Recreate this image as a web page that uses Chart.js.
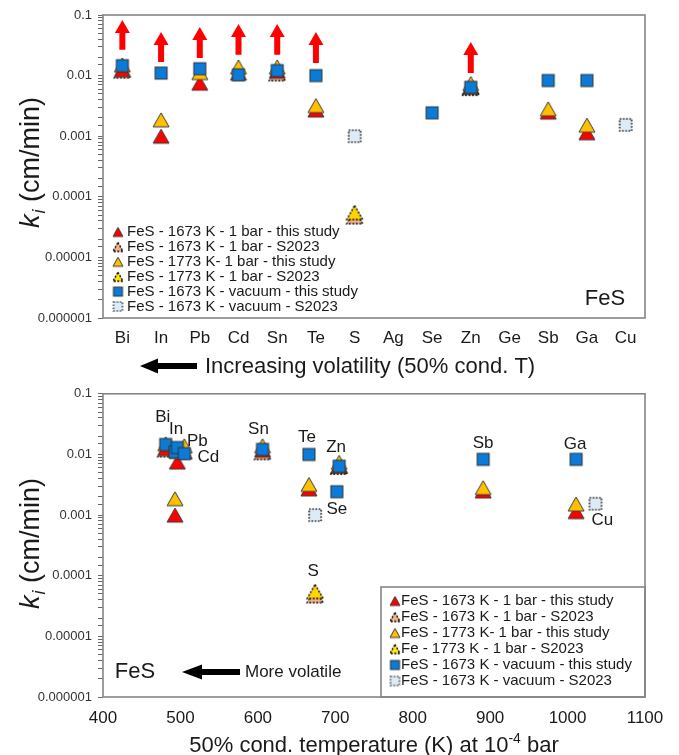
<!DOCTYPE html>
<html><head><meta charset="utf-8">
<script src="https://cdn.jsdelivr.net/npm/chart.js@4.4.1/dist/chart.umd.min.js"></script>
<style>
html,body{margin:0;padding:0;background:#fff;width:679px;height:755px;overflow:hidden}
#c1{position:absolute;left:0;top:0}
#c2{position:absolute;left:0;top:380px}
</style></head><body>
<canvas id="c1" width="679" height="380"></canvas>
<canvas id="c2" width="679" height="375"></canvas>
<script>
// ---------------- DATA ----------------
const elements = ['Bi','In','Pb','Cd','Sn','Te','S','Ag','Se','Zn','Ge','Sb','Ga','Cu'];
const condT    = [481, 493, 496, 505, 606, 666, 674, null, 702, 705, null, 891, 1011, 1036];
const fes1673Bar      = [0.0125, 0.001, 0.0075, 0.011, 0.0118, 0.0027, null, null, null, 0.0065, null, 0.0025, 0.00114, null];
const fes1673BarS2023 = [0.012, null, null, null, 0.0108, null, 0.000047, null, null, 0.0062, null, null, null, null];
const fes1773Bar      = [0.015, 0.00186, 0.0112, 0.0139, 0.0139, 0.0032, null, null, null, 0.0074, null, 0.00283, 0.00152, null];
const fe1773BarS2023  = [null, null, null, null, null, null, 0.000055, null, null, 0.0064, null, null, null, null];
const fes1673Vac      = [0.0146, 0.011, 0.013, 0.0103, 0.0121, 0.0100, null, null, 0.00243, 0.0064, null, 0.0083, 0.0083, null];
const fes1673VacS2023 = [null, null, null, null, null, null, 0.001, null, null, null, null, null, null, 0.00154];
const arrowFrom = [0.0266, 0.0168, 0.0196, 0.022, 0.022, 0.0162, null, null, null, 0.011, null, null, null, null];
const arrowTo   = [0.083, 0.0525, 0.0634, 0.071, 0.071, 0.0525, null, null, null, 0.0359, null, null, null, null];
const yTickLabels = ['0.1','0.01','0.001','0.0001','0.00001','0.000001'];
const xTicksK = [400, 500, 600, 700, 800, 900, 1000, 1100];
const legendTop = ['FeS - 1673 K - 1 bar - this study','FeS - 1673 K - 1 bar - S2023','FeS - 1773 K- 1 bar - this study','FeS - 1773 K - 1 bar - S2023','FeS - 1673 K - vacuum - this study','FeS - 1673 K - vacuum - S2023'];
const legendBottom = ['FeS - 1673 K - 1 bar - this study','FeS - 1673 K - 1 bar - S2023','FeS - 1773 K- 1 bar - this study','Fe - 1773 K - 1 bar - S2023','FeS - 1673 K - vacuum - this study','FeS - 1673 K - vacuum - S2023'];

// ---------------- STYLE ----------------
const FONT = "'Liberation Sans', Arial, sans-serif";
const TXT = '#1a1a1a';
function mkTri(fill, stroke, dashed, w, h) {
  const c = document.createElement('canvas'); c.width = w + 4; c.height = h + 4;
  const g = c.getContext('2d');
  g.beginPath(); g.moveTo(c.width / 2, 2); g.lineTo(c.width - 2, h + 2); g.lineTo(2, h + 2); g.closePath();
  g.fillStyle = fill; g.fill();
  g.lineWidth = dashed ? 1.4 : 1; g.strokeStyle = stroke;
  if (dashed) g.setLineDash([2, 1.5]);
  g.stroke(); return c;
}
function mkSq(fill, stroke, dashed, s) {
  const c = document.createElement('canvas'); c.width = s + 4; c.height = s + 4;
  const g = c.getContext('2d');
  g.fillStyle = fill; g.fillRect(2, 2, s, s);
  g.lineWidth = dashed ? 1.6 : 1; g.strokeStyle = stroke;
  if (dashed) g.setLineDash([1.6, 1.6]);
  g.strokeRect(2, 2, s, s); return c;
}
const RED = '#FF0000', YEL = '#FFC000', BLUE = '#0A7BD8';
const styles = {
  red:   [mkTri(RED, '#3a3a3a', false, 16, 14), mkTri(RED, '#3a3a3a', false, 10, 9)],
  redS:  [mkTri('#F4B183', '#000', true, 16, 14), mkTri('#F4B183', '#000', true, 10, 9)],
  yel:   [mkTri(YEL, '#3a3a3a', false, 16, 14), mkTri(YEL, '#3a3a3a', false, 10, 9)],
  yelS:  [mkTri('#FFD400', '#000', true, 16, 14), mkTri('#FFE800', '#000', true, 10, 9)],
  vac:   [mkSq(BLUE, '#333', false, 12), mkSq(BLUE, '#333', false, 9)],
  vacS:  [mkSq('#DDEBF7', '#222', true, 12), mkSq('#DDEBF7', '#555', true, 9)]
};
const legendIcons = [styles.red[1], styles.redS[1], styles.yel[1], styles.yelS[1], styles.vac[1], styles.vacS[1]];

// draw order: first = on top
const seriesDefs = [
  {data: fes1673Vac, st: styles.vac[0]},
  {data: fes1673VacS2023, st: styles.vacS[0]},
  {data: fes1773Bar, st: styles.yel[0]},
  {data: fes1673Bar, st: styles.red[0]},
  {data: fe1773BarS2023, st: styles.yelS[0]},
  {data: fes1673BarS2023, st: styles.redS[0]}
];

function isDecade(v) { const l = Math.log10(v); return Math.abs(l - Math.round(l)) < 1e-6; }
function yLabel(v) { if (!isDecade(v)) return ''; const idx = -Math.round(Math.log10(v)) - 1; return yTickLabels[idx] || ''; }

function drawYTitle(ctx, cx, cy) {
  ctx.save(); ctx.translate(cx, cy); ctx.rotate(-Math.PI / 2);
  const f1 = `italic 27px ${FONT}`, f2 = `italic 18px ${FONT}`, f3 = `27px ${FONT}`;
  ctx.font = f1; const w1 = ctx.measureText('k').width;
  ctx.font = f2; const w2 = ctx.measureText('i').width;
  ctx.font = f3; const w3 = ctx.measureText(' (cm/min)').width;
  let x = -(w1 + w2 + w3) / 2; const base = 9;
  ctx.fillStyle = TXT; ctx.textBaseline = 'alphabetic'; ctx.textAlign = 'left';
  ctx.font = f1; ctx.fillText('k', x, base); x += w1 + 1;
  ctx.font = f2; ctx.fillText('i', x, base + 6); x += w2;
  ctx.font = f3; ctx.fillText(' (cm/min)', x, base);
  ctx.restore();
}
function drawLeftArrow(ctx, xTip, xTail, y, headLen, headW, shaftW, color) {
  ctx.save(); ctx.fillStyle = color; ctx.beginPath();
  ctx.moveTo(xTip, y); ctx.lineTo(xTip + headLen, y - headW / 2); ctx.lineTo(xTip + headLen, y - shaftW / 2);
  ctx.lineTo(xTail, y - shaftW / 2); ctx.lineTo(xTail, y + shaftW / 2); ctx.lineTo(xTip + headLen, y + shaftW / 2);
  ctx.lineTo(xTip + headLen, y + headW / 2); ctx.closePath(); ctx.fill(); ctx.restore();
}
function drawUpArrow(ctx, x, yBase, yTip, headLen, headW, shaftW, color) {
  ctx.save(); ctx.fillStyle = color; ctx.beginPath();
  ctx.moveTo(x, yTip); ctx.lineTo(x + headW / 2, yTip + headLen); ctx.lineTo(x + shaftW / 2, yTip + headLen);
  ctx.lineTo(x + shaftW / 2, yBase); ctx.lineTo(x - shaftW / 2, yBase); ctx.lineTo(x - shaftW / 2, yTip + headLen);
  ctx.lineTo(x - headW / 2, yTip + headLen); ctx.closePath(); ctx.fill(); ctx.restore();
}
function drawFrame(ctx, a) {
  ctx.save(); ctx.strokeStyle = '#858585'; ctx.lineWidth = 1.6;
  ctx.strokeRect(a.left, a.top, a.right - a.left, a.bottom - a.top); ctx.restore();
}
function drawLegend(ctx, labels, iconX, textX, y0, dy) {
  ctx.save(); ctx.font = `15px ${FONT}`; ctx.fillStyle = TXT; ctx.textBaseline = 'middle'; ctx.textAlign = 'left';
  labels.forEach((t, i) => {
    const y = y0 + i * dy; const ic = legendIcons[i];
    ctx.drawImage(ic, iconX - ic.width / 2, y - ic.height / 2 + 1);
    ctx.fillText(t, textX, y + 1);
  });
  ctx.restore();
}

const yScaleCommon = (width) => ({
  type: 'logarithmic', min: 0.000001, max: 0.1,
  afterFit: s => { s.width = width; },
  grid: {drawOnChartArea: false, drawTicks: true, tickLength: 5, color: '#666', tickColor: '#666', tickWidth: 1},
  border: {display: false},
  ticks: {autoSkip: false, padding: 6, color: '#333', font: {family: FONT, size: 13}, callback: v => yLabel(v)}
});

// ---------------- TOP CHART ----------------
const topPlugin = {
  id: 'topDeco',
  afterDatasetsDraw(chart) {
    const ctx = chart.ctx, xs = chart.scales.x, ys = chart.scales.y;
    for (let i = 0; i < elements.length; i++) {
      if (arrowFrom[i] == null) continue;
      const x = xs.getPixelForValue(i);
      drawUpArrow(ctx, x, ys.getPixelForValue(arrowFrom[i]), ys.getPixelForValue(arrowTo[i]), 13, 15, 6, RED);
    }
  },
  afterDraw(chart) {
    const ctx = chart.ctx, a = chart.chartArea;
    drawFrame(ctx, a);
    drawYTitle(ctx, 30, 163);
    drawLegend(ctx, legendTop, 118, 127, 231, 14.9);
    ctx.save(); ctx.fillStyle = TXT; ctx.textBaseline = 'middle'; ctx.textAlign = 'center';
    ctx.font = `22px ${FONT}`; ctx.fillText('FeS', 605, 299);
    ctx.textAlign = 'left'; ctx.font = `22px ${FONT}`;
    ctx.fillText('Increasing volatility (50% cond. T)', 205, 367);
    ctx.restore();
    drawLeftArrow(ctx, 140, 197, 366, 18, 15, 6, '#000');
  }
};
new Chart(document.getElementById('c1'), {
  type: 'line',
  data: {
    labels: elements,
    datasets: seriesDefs.map(s => ({data: s.data, showLine: false, pointStyle: s.st, pointRadius: 8, pointHoverRadius: 8}))
  },
  options: {
    responsive: false, animation: false, devicePixelRatio: 1,
    layout: {padding: {top: 15, right: 34, left: 0, bottom: 0}},
    plugins: {legend: {display: false}, tooltip: {enabled: false}},
    events: [],
    scales: {
      x: {type: 'category', offset: true, afterFit: s => { s.height = 62; },
          grid: {display: false}, border: {display: false},
          ticks: {padding: 2, color: TXT, font: {family: FONT, size: 17}, autoSkip: false, maxRotation: 0}},
      y: yScaleCommon(103)
    }
  },
  plugins: [topPlugin]
});

// ---------------- BOTTOM CHART ----------------
const labelOffsets = [[-3,-27],[1,-23],[20,-6],[24,4],[-4,-20],[-2,-17],[-2,-20],null,[0,18],[-3,-19],null,[0,-16],[-1,-15],[7,17]];
const botPlugin = {
  id: 'botDeco',
  afterDatasetsDraw(chart) {
    const ctx = chart.ctx, xs = chart.scales.x, ys = chart.scales.y;
    ctx.save(); ctx.fillStyle = TXT; ctx.font = `17px ${FONT}`; ctx.textAlign = 'center'; ctx.textBaseline = 'middle';
    for (let i = 0; i < elements.length; i++) {
      if (condT[i] == null || !labelOffsets[i]) continue;
      const anchor = fes1673Vac[i] ?? fe1773BarS2023[i] ?? fes1673VacS2023[i];
      const x = xs.getPixelForValue(condT[i]) + labelOffsets[i][0];
      const y = ys.getPixelForValue(anchor) + labelOffsets[i][1];
      ctx.fillText(elements[i], x, y);
    }
    ctx.restore();
  },
  afterDraw(chart) {
    const ctx = chart.ctx, a = chart.chartArea;
    ctx.save(); ctx.fillStyle = '#fff'; ctx.fillRect(381, 207, a.right - 381, a.bottom - 207);
    ctx.strokeStyle = '#858585'; ctx.lineWidth = 1.6; ctx.strokeRect(381, 207, a.right - 381, a.bottom - 207);
    ctx.restore();
    drawFrame(ctx, a);
    drawLegend(ctx, legendBottom, 395, 401, 220, 16);
    drawYTitle(ctx, 30, 164);
    ctx.save(); ctx.fillStyle = TXT; ctx.textBaseline = 'middle';
    ctx.textAlign = 'center'; ctx.font = `22px ${FONT}`; ctx.fillText('FeS', 135, 292);
    ctx.textAlign = 'left'; ctx.font = `17px ${FONT}`; ctx.fillText('More volatile', 245, 292);
    const s1 = '50% cond. temperature (K) at 10', s2 = '-4', s3 = ' bar';
    const f1 = `22px ${FONT}`, f2 = `14px ${FONT}`;
    ctx.font = f1; const w1 = ctx.measureText(s1).width, w3 = ctx.measureText(s3).width;
    ctx.font = f2; const w2 = ctx.measureText(s2).width;
    let x = (a.left + a.right) / 2 - (w1 + w2 + w3) / 2; const yb = 372;
    ctx.textBaseline = 'alphabetic';
    ctx.font = f1; ctx.fillText(s1, x, yb); x += w1;
    ctx.font = f2; ctx.fillText(s2, x, yb - 9); x += w2;
    ctx.font = f1; ctx.fillText(s3, x, yb);
    ctx.restore();
    drawLeftArrow(ctx, 182, 240, 292, 20, 15, 6, '#000');
  }
};
new Chart(document.getElementById('c2'), {
  type: 'scatter',
  data: {
    datasets: seriesDefs.map(s => ({
      data: s.data.map((v, i) => (v != null && condT[i] != null) ? {x: condT[i], y: v} : null).filter(p => p),
      pointStyle: s.st, pointRadius: 8, pointHoverRadius: 8
    }))
  },
  options: {
    responsive: false, animation: false, devicePixelRatio: 1,
    layout: {padding: {top: 11, right: 34, left: 0, bottom: 0}},
    plugins: {legend: {display: false}, tooltip: {enabled: false}},
    events: [],
    scales: {
      x: {type: 'linear', min: 400, max: 1100, afterFit: s => { s.height = 58; },
          afterBuildTicks: s => { s.ticks = xTicksK.map(v => ({value: v})); },
          grid: {display: false}, border: {display: false},
          ticks: {padding: 3, color: TXT, font: {family: FONT, size: 17}, autoSkip: false, maxRotation: 0,
                  callback: v => String(v)}},
      y: yScaleCommon(103)
    }
  },
  plugins: [botPlugin]
});
</script>
</body></html>
